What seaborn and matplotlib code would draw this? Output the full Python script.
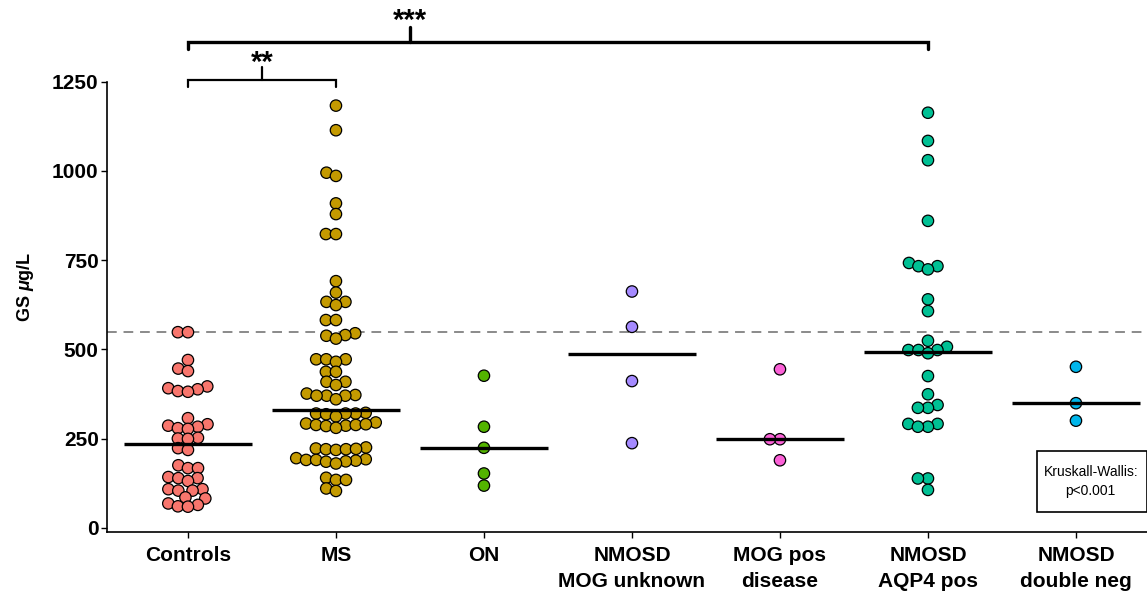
import matplotlib
matplotlib.use("Agg")
import matplotlib.pyplot as plt
import pandas as pd
import seaborn as sns
from matplotlib.patches import Rectangle

# Groups, colours and GS concentrations (µg/L)
groups = ["Controls", "MS", "ON", "NMOSD\nMOG unknown", "MOG pos\ndisease",
          "NMOSD\nAQP4 pos", "NMOSD\ndouble neg"]
colors = ["#F8766D", "#C49A00", "#53B400", "#A58AFF", "#FB61D7", "#00C094", "#00B6EB"]

controls = [548, 548, 470, 446, 439, 396, 391, 388, 383, 381, 307, 290, 286, 283,
            279, 277, 252, 250, 249, 223, 218, 175, 167, 167, 142, 139, 139, 131,
            108, 108, 104, 104, 85, 82, 68, 64, 60, 59]
ms = [1183, 1114, 995, 986, 909, 879, 823, 823, 691, 659, 633, 633, 624, 582, 582,
      545, 540, 538, 530, 472, 472, 472, 465, 437, 437, 409, 409, 400, 376, 372,
      370, 370, 370, 360, 322, 320, 320, 318, 320, 312, 295, 292, 288, 286, 288,
      290, 285, 280, 225, 222, 220, 218, 220, 221, 195, 192, 190, 190, 188, 186,
      185, 180, 140, 134, 134, 110, 103]
on = [426, 283, 224, 152, 118]
nmosd_mog_unknown = [662, 563, 411, 237]
mog_pos = [444, 248, 248, 189]
nmosd_aqp4 = [1163, 1084, 1030, 860, 742, 733, 733, 724, 640, 607, 524, 507, 498,
              498, 498, 489, 425, 374, 344, 336, 336, 291, 291, 283, 283, 138, 138, 106]
nmosd_double_neg = [451, 349, 300]

medians = [236, 330, 224, 487, 248, 492, 349]
cutoff = 548

series = [controls, ms, on, nmosd_mog_unknown, mog_pos, nmosd_aqp4, nmosd_double_neg]
df = pd.DataFrame({
    "group": [g for g, vals in zip(groups, series) for _ in vals],
    "gs": [v for vals in series for v in vals],
})

sns.set_style("ticks")
plt.rcParams["font.family"] = ["Liberation Sans", "DejaVu Sans"]
plt.rcParams["text.color"] = "black"
plt.rcParams["axes.labelcolor"] = "black"
plt.rcParams["xtick.color"] = "black"
plt.rcParams["ytick.color"] = "black"
plt.rcParams["axes.edgecolor"] = "black"
plt.rcParams["mathtext.fontset"] = "custom"
plt.rcParams["mathtext.it"] = "Liberation Sans:italic:bold"
plt.rcParams["mathtext.rm"] = "Liberation Sans:bold"

fig = plt.figure(figsize=(11.47, 5.93), dpi=100)
ax = fig.add_axes([107 / 1147, 61 / 593, 1 - 107 / 1147, (532 - 81.7) / 593])

# reference cut-off
ax.axhline(cutoff, color="#8a8a8a", lw=1.4, ls=(0, (5, 3.5)), zorder=0)

# swarm laid out with a tight packing, then shown with larger markers
marker_size = 8.2
sns.swarmplot(data=df, x="group", y="gs", hue="group", order=groups,
              palette=dict(zip(groups, colors)), size=6.0, edgecolor="black",
              linewidth=0.9, legend=False, ax=ax, zorder=3)

# median lines
for i, m in enumerate(medians):
    ax.plot([i - 0.43, i + 0.43], [m, m], color="black", lw=2.4, zorder=4,
            solid_capstyle="butt")

ax.set_xlim(-0.547, 6.48)
ax.set_ylim(-12, 1250)
ax.set_yticks([0, 250, 500, 750, 1000, 1250])
ax.set_xlabel("")
ax.set_ylabel(r"GS $\mu$g/L", fontsize=13, fontweight="bold")
ax.yaxis.set_label_coords(-0.068, 0.544)
ax.tick_params(axis="both", labelsize=15, length=4, width=1)
ax.tick_params(axis="x", pad=6)
ax.tick_params(axis="y", pad=2)
for lab in ax.get_xticklabels() + ax.get_yticklabels():
    lab.set_fontweight("bold")
    lab.set_linespacing(1.45)
sns.despine(ax=ax)
for s in ("left", "bottom"):
    ax.spines[s].set_linewidth(1.2)

# significance brackets
def bracket(x0, x1, y, drop, xc, rise, label, label_y, lw):
    ax.plot([x0, x0, x1, x1], [y - drop, y, y, y - drop], color="black", lw=lw,
            clip_on=False, solid_joinstyle="miter", zorder=5)
    ax.plot([xc, xc], [y, y + rise], color="black", lw=lw, clip_on=False, zorder=5)
    ax.text(xc, label_y, label, ha="center", va="baseline", fontsize=21,
            fontweight="bold", clip_on=False)

bracket(0, 1, 1255, 20, 0.5, 35, "**", 1279, 1.6)
bracket(0, 5, 1361, 20, 1.5, 42, "***", 1398, 2.4)

# test result box
ax.add_patch(Rectangle((5.74, 45), 0.74, 171, fill=False, edgecolor="black",
                       lw=1.2, clip_on=False, zorder=5))
ax.text(6.1, 130, "Kruskall-Wallis:\np<0.001", ha="center", va="center",
        fontsize=10, linespacing=1.5, zorder=6)

# lay out the swarms, then freeze the positions and enlarge the markers
fig.canvas.draw()
for coll in ax.collections:
    if "draw" in coll.__dict__:
        del coll.draw
    coll.set_sizes([marker_size ** 2])

fig.savefig("out.png", dpi=100)
